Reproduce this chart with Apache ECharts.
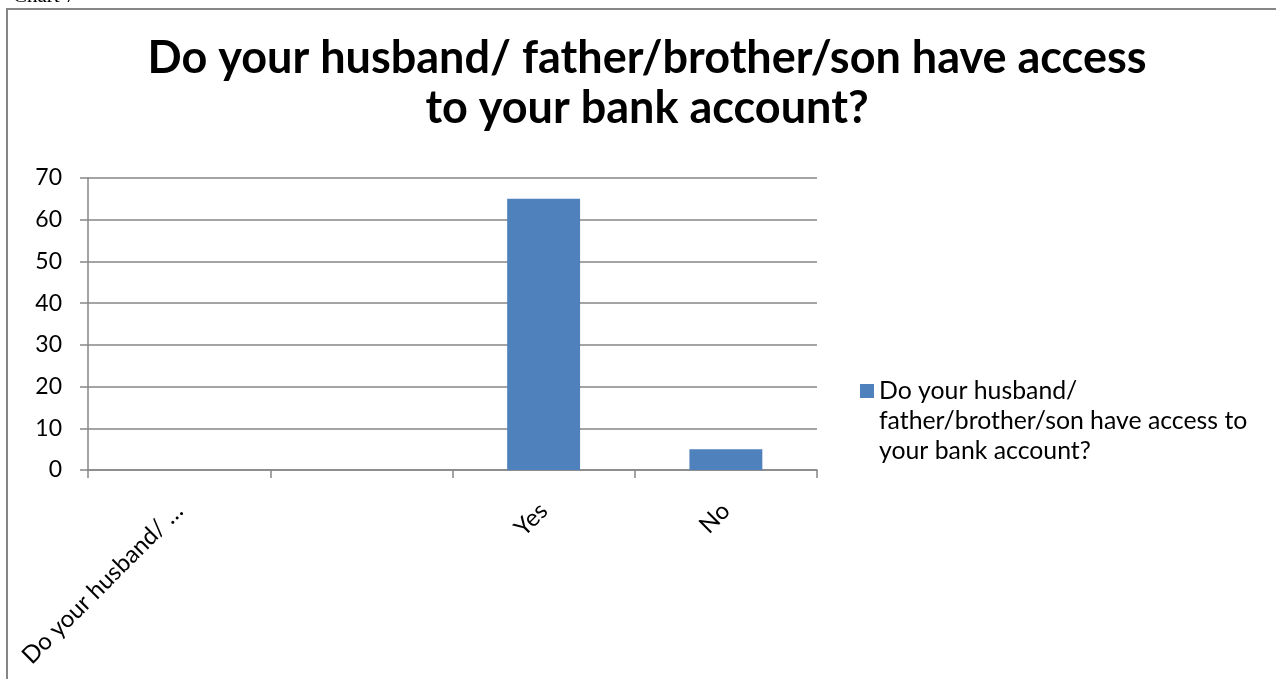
<!DOCTYPE html>
<html>
<head>
<meta charset="utf-8">
<title>Bank account access</title>
<script src="https://cdn.jsdelivr.net/npm/echarts@6/dist/echarts.min.js"></script>
<style>
  html, body { margin: 0; padding: 0; background: #ffffff; }
  #chart { width: 1276px; height: 679px; }
</style>
</head>
<body>
<div id="chart"></div>
<script>
// Survey question and answers
const chartTitle = 'Do your husband/ father/brother/son have access\nto your bank account?';
const seriesName = 'Do your husband/ father/brother/son have access to your bank account?';
const legendLines = ['Do your husband/', 'father/brother/son have access to', 'your bank account?'];
const categories = ['Do your husband/ …', '', 'Yes', 'No'];
const responses = [null, null, 65, 5];
const yTicks = { min: 0, max: 70, interval: 10 };

const FONT = 'Lato, "Open Sans", sans-serif';
const GREY = '#868686';

const chart = echarts.init(document.getElementById('chart'), null, { renderer: 'canvas' });

// The legend marker sits beside the first line of the wrapped name:
// an invisible spacer line on top balances the text block around the marker.
const legendText = '{pad| }\n' + legendLines.map(l => '{t|' + l + '}').join('\n');

chart.setOption({
  backgroundColor: '#ffffff',
  animation: false,
  title: {
    text: chartTitle,
    left: 642,
    top: 28,
    textAlign: 'center',
    textStyle: {
      fontFamily: FONT,
      fontSize: 45,
      fontWeight: 'bold',
      lineHeight: 50,
      color: '#000000'
    }
  },
  graphic: [
    {
      type: 'text',
      left: 13,
      top: -14,
      style: { text: 'Chart 7', font: '21px "Liberation Serif", serif', fill: '#000000' }
    },
    {
      type: 'rect',
      shape: { x: 7, y: 9, width: 1300, height: 700 },
      style: { fill: 'none', stroke: GREY, lineWidth: 2 },
      silent: true
    }
  ],
  legend: {
    left: 860,
    top: 345,
    padding: 0,
    orient: 'vertical',
    icon: 'rect',
    itemWidth: 14,
    itemHeight: 14,
    formatter: () => legendText,
    textStyle: {
      color: '#000000',
      rich: {
        pad: { fontSize: 2, lineHeight: 60 },
        t: { fontFamily: FONT, fontSize: 24.8, lineHeight: 30, color: '#000000' }
      }
    },
    data: [seriesName]
  },
  grid: {
    left: 88,
    right: 459,
    top: 178,
    bottom: 209,
    containLabel: false,
    outerBoundsMode: 'none'
  },
  xAxis: {
    type: 'category',
    data: categories,
    axisLine: { lineStyle: { color: GREY, width: 1.5 } },
    axisTick: { show: true, length: 8, lineStyle: { color: GREY, width: 1.5 } },
    axisLabel: {
      rotate: 45,
      margin: 37,
      interval: 0,
      fontFamily: FONT,
      fontSize: 24,
      color: '#000000'
    }
  },
  yAxis: {
    type: 'value',
    min: yTicks.min,
    max: yTicks.max,
    interval: yTicks.interval,
    axisLine: { show: true, lineStyle: { color: GREY, width: 1.5 } },
    axisTick: { show: true, length: 8, lineStyle: { color: GREY, width: 1.5 } },
    splitLine: { show: true, lineStyle: { color: GREY, width: 1.5 } },
    axisLabel: {
      margin: 26,
      fontFamily: FONT,
      fontSize: 23,
      color: '#000000'
    }
  },
  series: [
    {
      name: seriesName,
      type: 'bar',
      data: responses,
      barWidth: '40%',
      itemStyle: { color: '#4F81BD' }
    }
  ]
});
</script>
</body>
</html>
